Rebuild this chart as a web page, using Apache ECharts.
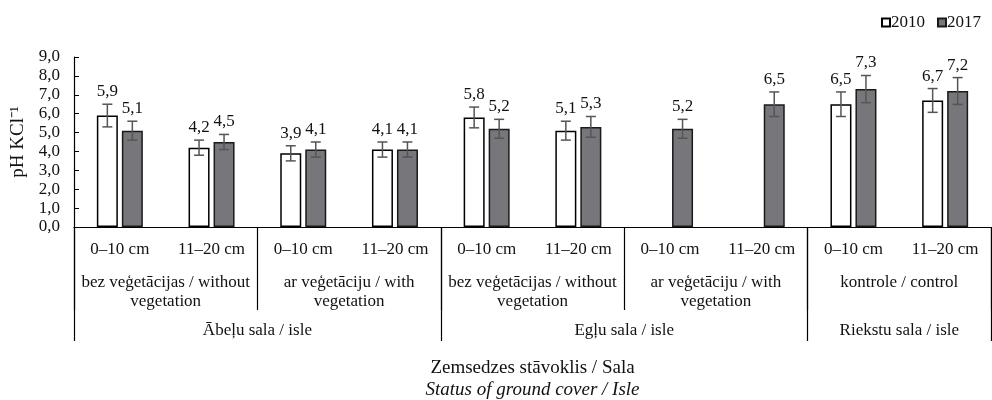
<!DOCTYPE html>
<html>
<head>
<meta charset="utf-8">
<script src="https://cdn.jsdelivr.net/npm/echarts@6/dist/echarts.min.js"></script>
<style>
  html, body { margin: 0; padding: 0; background: #fff; }
  #chart { width: 992px; height: 400px; }
</style>
</head>
<body>
<div id="chart"></div>
<script>
// bottom level: soil depth (one per bar pair)
var depths = ['0–10 cm', '11–20 cm', '0–10 cm', '11–20 cm', '0–10 cm', '11–20 cm', '0–10 cm', '11–20 cm', '0–10 cm', '11–20 cm'];
// middle level: ground cover, each spans 2 depths
var covers = ['bez veģetācijas / without\nvegetation', 'ar veģetāciju / with\nvegetation', 'bez veģetācijas / without\nvegetation', 'ar veģetāciju / with\nvegetation', 'kontrole / control'];
var coverSpan = [2, 2, 2, 2, 2];
// top level: isle
var isles = ['Ābeļu sala / isle', 'Egļu sala / isle', 'Riekstu sala / isle'];
var isleSpan = [4, 4, 2];

var years = ['2010', '2017'];
var ph2010 = [5.9, 4.2, 3.9, 4.1, 5.8, 5.1, null, null, 6.5, 6.7];
var ph2017 = [5.1, 4.5, 4.1, 4.1, 5.2, 5.3, 5.2, 6.5, 7.3, 7.2];
var err2010 = [0.6, 0.4, 0.4, 0.4, 0.55, 0.5, null, null, 0.65, 0.63];
var err2017 = [0.5, 0.4, 0.4, 0.4, 0.5, 0.55, 0.5, 0.65, 0.72, 0.71];

var FONT = '"Liberation Serif", "Times New Roman", serif';
var FS = 17;
var BAR_W = 21;
var BAR_GAP = 4;

// edges and centres of grouped spans on a 0..n scale
function spans(sizes) {
    var edges = [0], mids = [], pos = 0;
    sizes.forEach(function (n) {
        mids.push(pos + n / 2);
        pos += n;
        edges.push(pos);
    });
    return { edges: edges, mids: mids };
}
var coverPos = spans(coverSpan);
var islePos = spans(isleSpan);

function fmt(v) {
    return v.toFixed(1).replace('.', ',');
}

function levelAxis(pos, names, tickLen, margin) {
    return {
        type: 'value',
        gridIndex: 0,
        position: 'bottom',
        min: 0,
        max: depths.length,
        axisLine: { show: false },
        splitLine: { show: false },
        axisTick: {
            show: true,
            customValues: pos.edges,
            length: tickLen,
            lineStyle: { color: '#000', width: 1.2 }
        },
        axisLabel: {
            customValues: pos.mids,
            margin: margin,
            fontFamily: FONT,
            fontSize: FS,
            lineHeight: 19,
            color: '#111',
            align: 'center',
            formatter: function (v) {
                var i = pos.mids.indexOf(v);
                return i < 0 ? '' : names[i];
            }
        }
    };
}

// error bar whiskers with the value label above them
function errorSeries(values, errs, side) {
    var data = [];
    values.forEach(function (v, i) {
        if (v != null) data.push([i, v, errs[i]]);
    });
    return {
        type: 'custom',
        xAxisIndex: 0,
        yAxisIndex: 0,
        z: 5,
        silent: true,
        data: data,
        renderItem: function (params, api) {
            var v = api.value(1);
            var e = api.value(2);
            var c = api.coord([api.value(0), v]);
            var x = c[0] + side * (BAR_W + BAR_GAP) / 2;
            var hi = api.coord([api.value(0), v + e])[1];
            var lo = api.coord([api.value(0), v - e])[1];
            var cap = 5;
            var ls = { stroke: '#555', lineWidth: 1.5 };
            return {
                type: 'group',
                children: [
                    { type: 'line', shape: { x1: x, y1: hi, x2: x, y2: lo }, style: ls },
                    { type: 'line', shape: { x1: x - cap, y1: hi, x2: x + cap, y2: hi }, style: ls },
                    { type: 'line', shape: { x1: x - cap, y1: lo, x2: x + cap, y2: lo }, style: ls },
                    {
                        type: 'text',
                        style: {
                            text: fmt(v),
                            x: x,
                            y: hi - 4,
                            align: 'center',
                            verticalAlign: 'bottom',
                            font: FS + 'px ' + FONT,
                            fill: '#111'
                        }
                    }
                ]
            };
        }
    };
}

var chart = echarts.init(document.getElementById('chart'));
chart.setOption({
    backgroundColor: '#fff',
    animation: false,
    textStyle: { fontFamily: FONT },
    legend: {
        data: years,
        right: 6,
        top: 9,
        icon: 'rect',
        itemWidth: 8,
        itemHeight: 8,
        itemGap: 12,
        textStyle: { fontFamily: FONT, fontSize: FS, color: '#111', padding: [0, 0, 0, -4] }
    },
    grid: { left: 74, right: 1, top: 57, bottom: 172.5, containLabel: false },
    xAxis: [
        {
            type: 'category',
            data: depths,
            position: 'bottom',
            axisLine: { show: true, lineStyle: { color: '#000', width: 1.2 } },
            axisTick: { show: false },
            axisLabel: {
                interval: 0,
                margin: 14,
                fontFamily: FONT,
                fontSize: FS,
                color: '#111'
            }
        },
        levelAxis(coverPos, covers, 83, 46),
        (function () {
            var a = levelAxis(islePos, isles, 114, 94);
            a.name = '{a|Zemsedzes stāvoklis / Sala}\n{b|Status of ground cover / Isle}';
            a.nameLocation = 'middle';
            a.nameGap = 131;
            a.nameTextStyle = {
                align: 'center',
                rich: {
                    a: { fontFamily: FONT, fontSize: 19, lineHeight: 21, color: '#111' },
                    b: { fontFamily: FONT, fontSize: 19, lineHeight: 21, fontStyle: 'italic', color: '#111' }
                }
            };
            return a;
        })()
    ],
    yAxis: {
        type: 'value',
        min: 0,
        max: 9,
        interval: 1,
        name: 'pH KCl⁻¹',
        nameLocation: 'middle',
        nameGap: 46,
        nameRotate: 90,
        nameTextStyle: { fontFamily: FONT, fontSize: 19, color: '#111' },
        axisLine: { show: true, lineStyle: { color: '#000', width: 1.2 } },
        axisTick: { show: true, inside: true, length: 5, lineStyle: { color: '#000' } },
        splitLine: { show: false },
        axisLabel: {
            margin: 14,
            fontFamily: FONT,
            fontSize: FS,
            color: '#111',
            formatter: fmt
        }
    },
    series: [
        {
            name: years[0],
            type: 'bar',
            data: ph2010,
            barWidth: BAR_W,
            barGap: (BAR_GAP / BAR_W * 100) + '%',
            itemStyle: { color: '#fff', borderColor: '#000', borderWidth: 1.5 }
        },
        {
            name: years[1],
            type: 'bar',
            data: ph2017,
            barWidth: BAR_W,
            itemStyle: { color: '#77777b', borderColor: '#1a1a1a', borderWidth: 1.5 }
        },
        errorSeries(ph2010, err2010, -1),
        errorSeries(ph2017, err2017, 1)
    ]
});
</script>
</body>
</html>
